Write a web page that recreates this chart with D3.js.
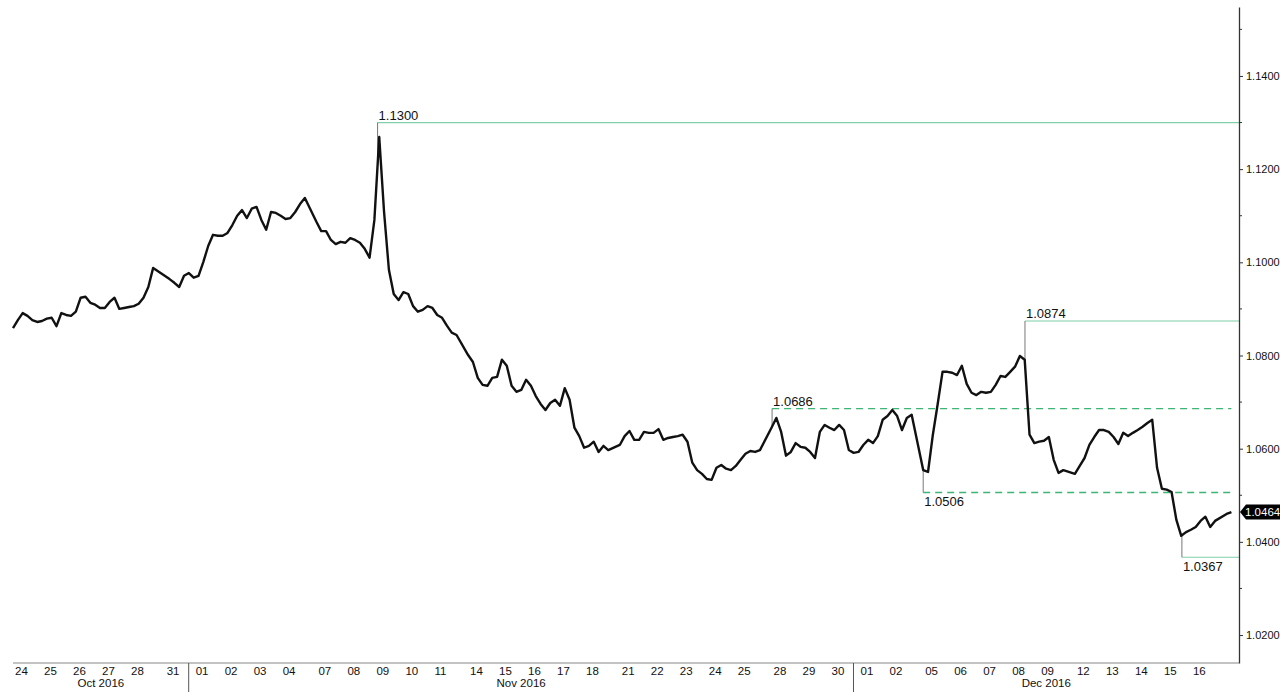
<!DOCTYPE html>
<html>
<head>
<meta charset="utf-8">
<script src="https://d3js.org/d3.v7.min.js"></script>
<style>
  body { margin: 0; background: #fff; }
  svg text { font-family: "Liberation Sans", Arial, sans-serif; }
</style>
</head>
<body>
<div id="vizContainer"></div>
<script>
// trading days shown on the chart (the last one is only a few hours)
var tradingDays = [
  "2016-10-24", "2016-10-25", "2016-10-26", "2016-10-27", "2016-10-28", "2016-10-31",
  "2016-11-01", "2016-11-02", "2016-11-03", "2016-11-04", "2016-11-07", "2016-11-08",
  "2016-11-09", "2016-11-10", "2016-11-11", "2016-11-14", "2016-11-15", "2016-11-16",
  "2016-11-17", "2016-11-18", "2016-11-21", "2016-11-22", "2016-11-23", "2016-11-24",
  "2016-11-25", "2016-11-28", "2016-11-29", "2016-11-30", "2016-12-01", "2016-12-02",
  "2016-12-05", "2016-12-06", "2016-12-07", "2016-12-08", "2016-12-09", "2016-12-12",
  "2016-12-13", "2016-12-14", "2016-12-15", "2016-12-16", "2016-12-19"
];

// EURUSD, six readings per trading day (every 4 hours)
var dayPrices = [
  [1.0859, 1.0876, 1.0891, 1.0885, 1.0876, 1.0872],
  [1.0874, 1.0879, 1.0881, 1.0863, 1.0891, 1.0887],
  [1.0885, 1.0894, 1.0924, 1.0926, 1.0913, 1.0909],
  [1.0902, 1.0902, 1.0915, 1.0924, 1.0900, 1.0902],
  [1.0904, 1.0906, 1.0911, 1.0924, 1.0947, 1.0988],
  [1.0971, 1.0964, 1.0956, 1.0947, 1.0971, 1.0977],
  [1.0967, 1.0971, 1.1001, 1.1035, 1.1059, 1.1057],
  [1.1057, 1.1063, 1.1080, 1.1100, 1.1112, 1.1095],
  [1.1115, 1.1119, 1.1091, 1.1070, 1.1108, 1.1106],
  [1.1100, 1.1093, 1.1095, 1.1108, 1.1125, 1.1138],
  [1.1087, 1.1067, 1.1067, 1.1048, 1.1039, 1.1044],
  [1.1042, 1.1052, 1.1048, 1.1042, 1.1029, 1.1010],
  [1.1091, 1.1269, 1.1108, 1.0984, 1.0932, 1.0919],
  [1.0936, 1.0932, 1.0906, 1.0894, 1.0898, 1.0906],
  [1.0902, 1.0887, 1.0881, 1.0864, 1.0849, 1.0844],
  [1.0801, 1.0786, 1.0752, 1.0737, 1.0735, 1.0752],
  [1.0754, 1.0791, 1.0778, 1.0735, 1.0722, 1.0726],
  [1.0748, 1.0735, 1.0713, 1.0696, 1.0683, 1.0698],
  [1.0705, 1.0692, 1.0730, 1.0705, 1.0645, 1.0627],
  [1.0602, 1.0606, 1.0615, 1.0593, 1.0606, 1.0597],
  [1.0608, 1.0627, 1.0638, 1.0619, 1.0619, 1.0636],
  [1.0634, 1.0634, 1.0642, 1.0619, 1.0623, 1.0625],
  [1.0627, 1.0630, 1.0615, 1.0570, 1.0554, 1.0546],
  [1.0535, 1.0533, 1.0559, 1.0565, 1.0557, 1.0554],
  [1.0563, 1.0576, 1.0589, 1.0595, 1.0593, 1.0597],
  [1.0645, 1.0666, 1.0636, 1.0585, 1.0593, 1.0612],
  [1.0604, 1.0602, 1.0593, 1.0580, 1.0636, 1.0651],
  [1.0645, 1.0640, 1.0651, 1.0640, 1.0597, 1.0591],
  [1.0593, 1.0608, 1.0619, 1.0612, 1.0627, 1.0662],
  [1.0670, 1.0683, 1.0670, 1.0640, 1.0666, 1.0673],
  [1.0554, 1.0550, 1.0630, 1.0696, 1.0765, 1.0765],
  [1.0763, 1.0758, 1.0778, 1.0739, 1.0720, 1.0715],
  [1.0722, 1.0720, 1.0722, 1.0737, 1.0756, 1.0754],
  [1.0765, 1.0776, 1.0799, 1.0791, 1.0630, 1.0612],
  [1.0615, 1.0617, 1.0625, 1.0576, 1.0548, 1.0554],
  [1.0546, 1.0563, 1.0580, 1.0608, 1.0625, 1.0640],
  [1.0640, 1.0636, 1.0625, 1.0610, 1.0634, 1.0627],
  [1.0634, 1.0640, 1.0647, 1.0655, 1.0662, 1.0559],
  [1.0514, 1.0512, 1.0507, 1.0447, 1.0413, 1.0421],
  [1.0426, 1.0432, 1.0445, 1.0454, 1.0432, 1.0445],
  [1.0460, 1.0464]
];

// highs / lows that are marked with a level line
var levelValues = [1.1300, 1.0874, 1.0686, 1.0506, 1.0367];
var levelDays   = ["2016-11-09", "2016-12-08", "2016-11-28", "2016-12-05", "2016-12-15"];
var levelFracs  = [0.11, 0.51, 0.02, 0.0, 0.69];
var levelKinds  = ["high", "high", "high", "low", "low"];
var levelDashed = [false, false, true, true, false];

var yTicks = [1.02, 1.04, 1.06, 1.08, 1.10, 1.12, 1.14];
var yMinorTicks = [1.03, 1.05, 1.07, 1.09, 1.11, 1.13, 1.15];
var lastPrice = 1.0464;

var width = 1280, height = 692;
var axisX = 1239, axisTop = 7, axisBottom = 663;
var SLOTS = 6, WEEKEND_GAP = 0.231;

var svg = d3.select('#vizContainer').append('svg')
  .attr('width', width)
  .attr('height', height)
  .attr('viewBox', '0 0 ' + width + ' ' + height);

// position of each day on a continuous axis, weekends leave a small gap
var parseDay = d3.timeParse("%Y-%m-%d");
var dates = tradingDays.map(parseDay);
var dayUnit = [];
var gaps = 0;
dates.forEach(function(d, i){
  if (i > 0 && d.getDay() < dates[i - 1].getDay()) gaps++;
  dayUnit.push(i + gaps * WEEKEND_GAP);
});

var x = d3.scaleLinear().domain([0, 40]).range([13, 1173]);
var y = d3.scaleLinear().domain([1.014, 1.1548]).range([axisBottom, axisTop]);

var points = [];
dayPrices.forEach(function(prices, i){
  prices.forEach(function(p, k){
    points.push({ u: dayUnit[i] + k / SLOTS, p: p });
  });
});
var lastX = x(points[points.length - 1].u);

function priceAt(u){
  var i = d3.bisector(function(d){ return d.u; }).left(points, u);
  if (i <= 0) return points[0].p;
  if (i >= points.length) return points[points.length - 1].p;
  var a = points[i - 1], b = points[i];
  return a.p + (b.p - a.p) * (u - a.u) / (b.u - a.u);
}

// level lines, wicks and their labels
levelValues.forEach(function(v, i){
  var u = dayUnit[tradingDays.indexOf(levelDays[i])] + levelFracs[i];
  var lx = x(u), ly = y(v);
  svg.append('line')
    .attr('x1', lx).attr('x2', levelDashed[i] ? lastX : axisX)
    .attr('y1', ly).attr('y2', ly)
    .attr('stroke', levelDashed[i] ? '#3db574' : '#7fcfa8')
    .attr('stroke-width', levelDashed[i] ? 1.3 : 1.2)
    .attr('stroke-dasharray', levelDashed[i] ? '7,5' : null);
  svg.append('line')
    .attr('x1', lx).attr('x2', lx)
    .attr('y1', ly).attr('y2', y(priceAt(u)))
    .attr('stroke', '#777').attr('stroke-width', 1);
  svg.append('text')
    .attr('x', lx + 1)
    .attr('y', levelKinds[i] === 'high' ? ly - 3 : ly + 14)
    .attr('font-size', '13px')
    .attr('fill', '#111')
    .text(d3.format('.4f')(v));
});

// price line
svg.append('path')
  .datum(points)
  .attr('fill', 'none')
  .attr('stroke', '#111')
  .attr('stroke-width', 2.4)
  .attr('stroke-linejoin', 'round')
  .attr('d', d3.line().x(function(d){ return x(d.u); }).y(function(d){ return y(d.p); }));

// right value axis
var yAxis = svg.append('g')
  .attr('transform', 'translate(' + axisX + ',0)')
  .call(d3.axisRight(y).tickValues(yTicks).tickSize(4).tickSizeOuter(0).tickPadding(3)
    .tickFormat(d3.format('.4f')));
yAxis.select('.domain').attr('stroke', '#333').attr('stroke-width', 1.3);
yAxis.selectAll('.tick line').attr('stroke', '#333');
yAxis.selectAll('.tick text')
  .attr('font-family', '"Liberation Sans", Arial, sans-serif')
  .attr('font-size', '11px').attr('fill', '#111');

svg.append('g')
  .attr('transform', 'translate(' + axisX + ',0)')
  .selectAll('line').data(yMinorTicks.filter(function(v){ return y(v) > axisTop; }))
  .enter().append('line')
  .attr('x1', 0).attr('x2', 3)
  .attr('y1', function(v){ return y(v); }).attr('y2', function(v){ return y(v); })
  .attr('stroke', '#333');

// last price flag
var fy = y(lastPrice);
svg.append('path')
  .attr('d', 'M' + (axisX + 1) + ',' + fy + 'L' + (axisX + 7) + ',' + (fy - 7.5) +
    'L' + width + ',' + (fy - 7.5) + 'L' + width + ',' + (fy + 7.5) +
    'L' + (axisX + 7) + ',' + (fy + 7.5) + 'Z')
  .attr('fill', '#000');
svg.append('text')
  .attr('x', axisX + 6).attr('y', fy + 4)
  .attr('font-size', '11.5px').attr('fill', '#fff')
  .text(d3.format('.4f')(lastPrice));

// bottom time axis
svg.append('line')
  .attr('x1', 13).attr('x2', axisX)
  .attr('y1', axisBottom).attr('y2', axisBottom)
  .attr('stroke', '#888').attr('stroke-width', 1.2);

var dayFmt = d3.timeFormat('%d');
var monthFmt = d3.timeFormat('%b %Y');
dates.forEach(function(d, i){
  var tx = x(dayUnit[i]) + 2;
  if (tx + 14 > axisX) return;
  svg.append('text')
    .attr('x', tx).attr('y', 675)
    .attr('font-size', '11.5px').attr('fill', '#111')
    .text(dayFmt(d));
});

// month separators and month names
var monthStarts = [{ x: x(0), date: dates[0] }];
dates.forEach(function(d, i){
  if (i > 0 && d.getMonth() !== dates[i - 1].getMonth()) {
    var sx = x(dayUnit[i]) - 5;
    monthStarts.push({ x: sx, date: d });
    svg.append('line')
      .attr('x1', sx).attr('x2', sx)
      .attr('y1', axisBottom).attr('y2', height)
      .attr('stroke', '#555');
  }
});
monthStarts.forEach(function(m, i){
  var end = i < monthStarts.length - 1 ? monthStarts[i + 1].x : axisX;
  svg.append('text')
    .attr('x', (m.x + end) / 2).attr('y', 687)
    .attr('text-anchor', 'middle')
    .attr('font-size', '11.5px').attr('fill', '#111')
    .text(monthFmt(m.date));
});
</script>
</body>
</html>
